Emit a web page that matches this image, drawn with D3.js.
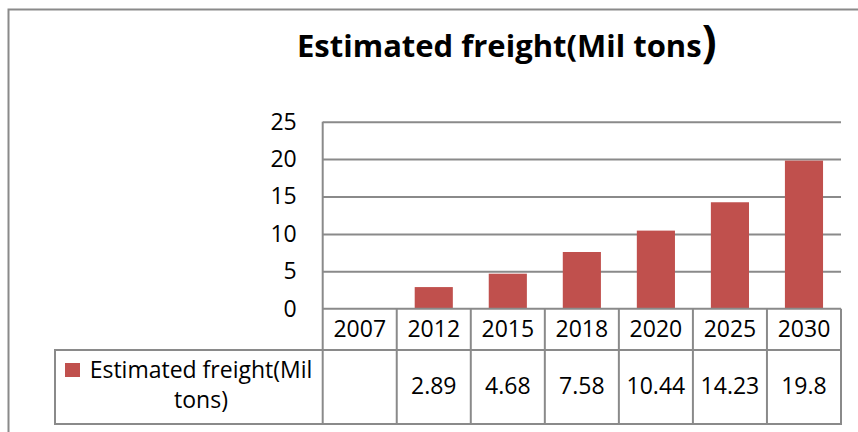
<!DOCTYPE html>
<html>
<head>
<meta charset="utf-8">
<script src="https://cdn.jsdelivr.net/npm/d3@7"></script>
<style>
  body { margin: 0; background: #fff; }
  svg { display: block; font-family: "Open Sans", sans-serif; }
</style>
</head>
<body>
<div class="chart"></div>
<script>
// data
var years = ["2007", "2012", "2015", "2018", "2020", "2025", "2030"];
var freight = [null, 2.89, 4.68, 7.58, 10.44, 14.23, 19.8];
var freightLabels = ["", "2.89", "4.68", "7.58", "10.44", "14.23", "19.8"];
var yTicks = [0, 5, 10, 15, 20, 25];
var seriesName = ["Estimated freight(Mil", "tons)"];
var titleText = "Estimated freight(Mil tons";

var values = {
  width: 858,
  height: 432,
  left: 322.7,
  right: 841,
  top: 121.7,
  bottom: 308.7,
  headRow: 350,
  tableBottom: 424,
  legendLeft: 55
};
var gridColor = "#8a8a8a";
var barColor = "#c0504d";

var data = years.map(function (y, i) {
  return { year: y, value: freight[i], label: freightLabels[i] };
});

var svg = d3.select(".chart")
  .append("svg")
  .attr("width", values.width)
  .attr("height", values.height);

// outer chart frame (only left and top are inside the picture)
svg.append("path")
  .attr("d", "M8.5," + values.height + "V9.5H" + values.width)
  .attr("fill", "none")
  .attr("stroke", gridColor)
  .attr("stroke-width", 2);

// title, the closing bracket is drawn bigger
var title = svg.append("text")
  .attr("x", 297)
  .attr("y", 57)
  .style("font-weight", "bold")
  .style("font-size", "31px")
  .text(titleText);
title.append("tspan")
  .style("font-size", "44px")
  .text(")");

var x = d3.scaleBand()
  .domain(years)
  .range([values.left, values.right])
  .padding(0);

var y = d3.scaleLinear()
  .domain([0, 25])
  .range([values.bottom, values.top]);

// gridlines
svg.append("g")
  .attr("class", "grid")
  .attr("transform", "translate(" + values.left + ",0)")
  .call(d3.axisLeft(y).tickValues(yTicks.slice(1)).tickSize(-(values.right - values.left)).tickFormat(""))
  .call(function (g) { g.select(".domain").remove(); })
  .selectAll("line")
  .attr("stroke", gridColor)
  .attr("stroke-width", 2);

// y tick labels
svg.append("g")
  .attr("class", "y_axis")
  .attr("transform", "translate(" + values.left + ",0)")
  .call(d3.axisLeft(y).tickValues(yTicks).tickSize(0).tickPadding(26))
  .call(function (g) { g.select(".domain").remove(); })
  .selectAll("text")
  .style("font-family", "'Open Sans', sans-serif")
  .style("font-size", "23px")
  .attr("fill", "#000");

// bars
var barW = x.bandwidth() * 0.515;
svg.selectAll("rect.bar")
  .data(data.filter(function (d) { return d.value != null; }))
  .enter()
  .append("rect")
  .attr("class", "bar")
  .attr("x", function (d) { return x(d.year) + (x.bandwidth() - barW) / 2; })
  .attr("y", function (d) { return y(d.value); })
  .attr("width", barW)
  .attr("height", function (d) { return y(0) - y(d.value); })
  .attr("fill", barColor);

// data table: header row with the categories
svg.append("g")
  .attr("class", "x_axis")
  .attr("transform", "translate(0," + values.bottom + ")")
  .call(d3.axisBottom(x).tickSize(0).tickPadding(12))
  .call(function (g) { g.select(".domain").remove(); })
  .selectAll("text")
  .style("font-family", "'Open Sans', sans-serif")
  .style("font-size", "23px")
  .attr("fill", "#000");

// value row
svg.selectAll("text.cell")
  .data(data)
  .enter()
  .append("text")
  .attr("class", "cell")
  .attr("x", function (d) { return x(d.year) + x.bandwidth() / 2; })
  .attr("y", 394)
  .attr("text-anchor", "middle")
  .style("font-size", "23px")
  .text(function (d) { return d.label; });

// table lines
var lines = svg.append("g")
  .attr("stroke", gridColor)
  .attr("stroke-width", 2)
  .attr("fill", "none");
lines.append("line")
  .attr("x1", values.left).attr("x2", values.right)
  .attr("y1", y(0)).attr("y2", y(0));
lines.append("line")
  .attr("x1", values.legendLeft - 1).attr("x2", values.right + 1)
  .attr("y1", values.headRow).attr("y2", values.headRow);
lines.append("line")
  .attr("x1", values.legendLeft - 1).attr("x2", values.right + 1)
  .attr("y1", values.tableBottom).attr("y2", values.tableBottom);
lines.append("line")
  .attr("x1", values.legendLeft).attr("x2", values.legendLeft)
  .attr("y1", values.headRow).attr("y2", values.tableBottom);
lines.append("line")
  .attr("x1", values.left).attr("x2", values.left)
  .attr("y1", values.top).attr("y2", values.tableBottom);
lines.selectAll("line.div")
  .data(years)
  .enter()
  .append("line")
  .attr("class", "div")
  .attr("x1", function (d) { return x(d) + x.bandwidth(); })
  .attr("x2", function (d) { return x(d) + x.bandwidth(); })
  .attr("y1", values.bottom)
  .attr("y2", values.tableBottom);

// legend key + series name
svg.append("rect")
  .attr("x", 65)
  .attr("y", 363)
  .attr("width", 15)
  .attr("height", 14)
  .attr("fill", barColor);

svg.selectAll("text.series")
  .data(seriesName)
  .enter()
  .append("text")
  .attr("class", "series")
  .attr("x", 201)
  .attr("y", function (d, i) { return 378 + i * 30; })
  .attr("text-anchor", "middle")
  .style("font-size", "23px")
  .text(function (d) { return d; });
</script>
</body>
</html>
